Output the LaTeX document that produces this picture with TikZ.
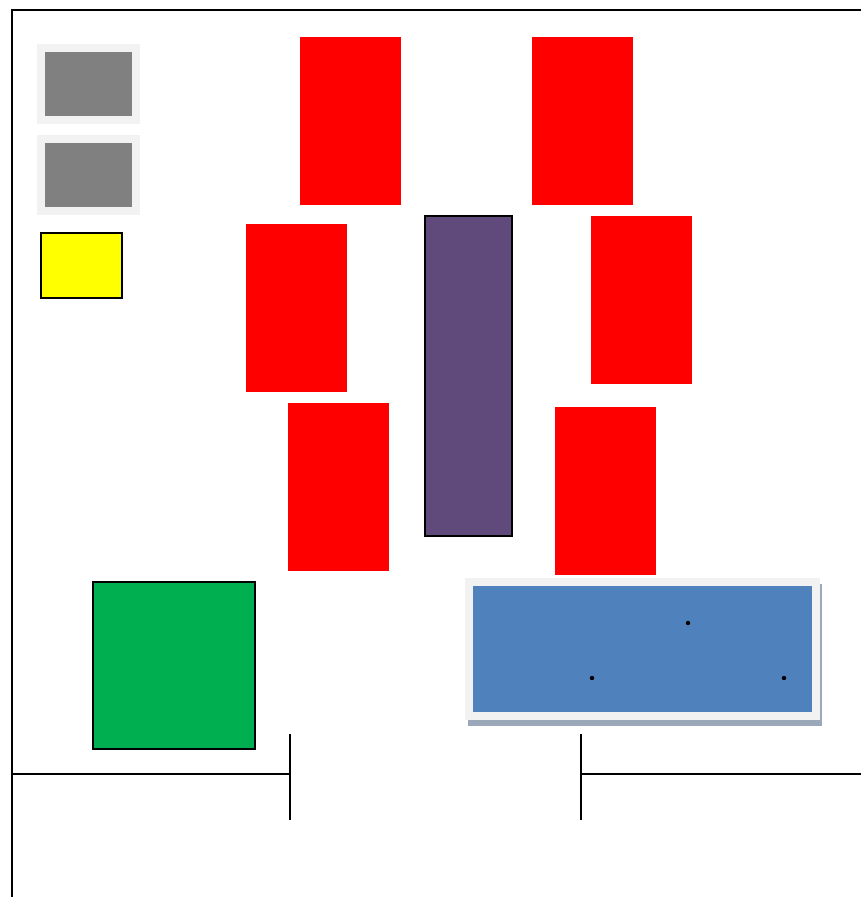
\documentclass[tikz,border=0pt]{standalone}
\usepackage{tikz}
\usetikzlibrary{calc}
\definecolor{wallgray}{RGB}{242,242,242}
\definecolor{deskgray}{RGB}{128,128,128}
\definecolor{boxyellow}{RGB}{255,255,0}
\definecolor{shelfpurple}{RGB}{96,74,123}
\definecolor{matgreen}{RGB}{0,176,80}
\definecolor{tableblue}{RGB}{79,129,189}
\definecolor{shadowblue}{RGB}{154,168,186}
\newcommand{\chairbox}[2]{\fill[red] (#1,#2) rectangle ++(101,168);}
\newcommand{\drawwall}{\draw[line width=1.1pt]}
\tikzset{
    outlined/.style={draw=black, line width=0.9pt},
    spot/.style={fill=black},
}

\begin{document}
\begin{tikzpicture}[x=0.02cm, y=-0.02cm]
        \useasboundingbox (0,0) rectangle (861,897);
        % Draw walls
        \coordinate (tl) at (12,10);
        \coordinate (tr) at (861,10);
        \coordinate (bl) at (12,897);
        \drawwall (tr) -- (tl) -- (bl);
        \drawwall (12,774) -- (290,774);
        \drawwall (290,734) -- (290,820);
        \drawwall (581,734) -- (581,820);
        \drawwall (581,774) -- (861,774);

        % Draw gray boxes
        \fill[wallgray] (37,44) rectangle (140,124);
        \fill[deskgray] (45,52) rectangle (132,116);
        \fill[wallgray] (37,135) rectangle (140,215);
        \fill[deskgray] (45,143) rectangle (132,207);
        \filldraw[fill=boxyellow, outlined] (41,233) rectangle (122,298);

        % Draw red boxes
        \chairbox{300}{37}
        \chairbox{532}{37}
        \chairbox{246}{224}
        \chairbox{591}{216}
        \chairbox{288}{403}
        \chairbox{555}{407}

        % Draw purple shelf and green mat
        \filldraw[fill=shelfpurple, outlined] (425,216) rectangle (512,536);
        \filldraw[fill=matgreen, outlined] (93,582) rectangle (255,749);

        % Draw blue table
        \fill[shadowblue] (468,584) rectangle (822,726);
        \fill[wallgray] (465,578) rectangle (820,720);
        \fill[tableblue] (473,586) rectangle (812,712);
        \coordinate (p1) at (688,623);
        \coordinate (p2) at (592,678);
        \coordinate (p3) at (784,678);
        \foreach \p in {p1,p2,p3} {
            \fill[spot] (\p) circle (2.2);
        }
    \end{tikzpicture}
\end{document}
